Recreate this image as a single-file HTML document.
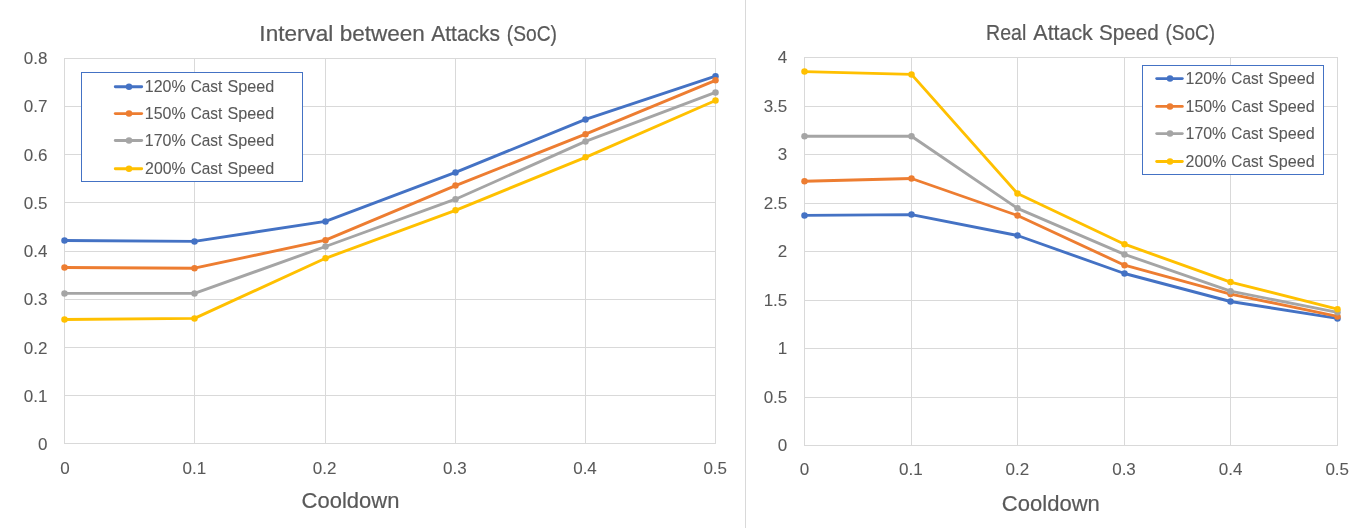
<!DOCTYPE html>
<html lang="en">
<head>
<meta charset="utf-8">
<title>Interval between Attacks / Real Attack Speed (SoC)</title>
<style>
html,body{margin:0;padding:0;background:#fff;}
body{width:1358px;height:528px;overflow:hidden;}
svg{display:block;font-family:"Liberation Sans",Arial,Helvetica,sans-serif;}
</style>
</head>
<body>
<svg width="1358" height="528" viewBox="0 0 1358 528">
<rect x="0" y="0" width="1358" height="528" fill="#ffffff"/>
<line x1="745.5" y1="0" x2="745.5" y2="528" stroke="#D9D9D9" stroke-width="1"/>
<!-- Left chart -->
<g stroke="#D9D9D9" stroke-width="1" fill="none" shape-rendering="crispEdges">
<line x1="64" y1="443.5" x2="716" y2="443.5"/>
<line x1="64" y1="395.5" x2="716" y2="395.5"/>
<line x1="64" y1="347.5" x2="716" y2="347.5"/>
<line x1="64" y1="299.5" x2="716" y2="299.5"/>
<line x1="64" y1="251.5" x2="716" y2="251.5"/>
<line x1="64" y1="202.5" x2="716" y2="202.5"/>
<line x1="64" y1="154.5" x2="716" y2="154.5"/>
<line x1="64" y1="106.5" x2="716" y2="106.5"/>
<line x1="64" y1="58.5" x2="716" y2="58.5"/>
<line x1="64.5" y1="58" x2="64.5" y2="444"/>
<line x1="194.5" y1="58" x2="194.5" y2="444"/>
<line x1="325.5" y1="58" x2="325.5" y2="444"/>
<line x1="455.5" y1="58" x2="455.5" y2="444"/>
<line x1="585.5" y1="58" x2="585.5" y2="444"/>
<line x1="715.5" y1="58" x2="715.5" y2="444"/>
</g>
<g font-size="17.0" fill="#595959" stroke="#595959" stroke-width="0.08">
<text x="47.5" y="449.95" text-anchor="end">0</text>
<text x="47.5" y="401.95" text-anchor="end">0.1</text>
<text x="47.5" y="353.95" text-anchor="end">0.2</text>
<text x="47.5" y="304.95" text-anchor="end">0.3</text>
<text x="47.5" y="256.95" text-anchor="end">0.4</text>
<text x="47.5" y="208.95" text-anchor="end">0.5</text>
<text x="47.5" y="160.95" text-anchor="end">0.6</text>
<text x="47.5" y="111.95" text-anchor="end">0.7</text>
<text x="47.5" y="63.95" text-anchor="end">0.8</text>
<text x="65" y="473.8" text-anchor="middle">0</text>
<text x="194.4" y="473.8" text-anchor="middle">0.1</text>
<text x="324.6" y="473.8" text-anchor="middle">0.2</text>
<text x="454.8" y="473.8" text-anchor="middle">0.3</text>
<text x="585" y="473.8" text-anchor="middle">0.4</text>
<text x="715.2" y="473.8" text-anchor="middle">0.5</text>
</g>
<text y="41.1" font-size="21.8" fill="#595959" stroke="#595959" stroke-width="0.22"><tspan x="259.38" textLength="74.02" lengthAdjust="spacingAndGlyphs">Interval</tspan> <tspan x="339.66" textLength="85.2" lengthAdjust="spacingAndGlyphs">between</tspan> <tspan x="431.19" textLength="68.89" lengthAdjust="spacingAndGlyphs">Attacks</tspan> <tspan x="506.82" textLength="50.21" lengthAdjust="spacingAndGlyphs">(SoC)</tspan></text>
<text y="507.6" font-size="21.5" fill="#595959" stroke="#595959" stroke-width="0.2"><tspan x="301.64" textLength="97.74" lengthAdjust="spacingAndGlyphs">Cooldown</tspan></text>
<g stroke="#4472C4" fill="#4472C4">
<polyline points="64.5,240.45 194.5,241.4 325.5,221.4 455.5,172.4 585.5,119.4 715.5,76.2" fill="none" stroke-width="2.9" stroke-linejoin="round" stroke-linecap="round"/>
<circle cx="64.5" cy="240.45" r="3.25" stroke="none"/>
<circle cx="194.5" cy="241.4" r="3.25" stroke="none"/>
<circle cx="325.5" cy="221.4" r="3.25" stroke="none"/>
<circle cx="455.5" cy="172.4" r="3.25" stroke="none"/>
<circle cx="585.5" cy="119.4" r="3.25" stroke="none"/>
<circle cx="715.5" cy="76.2" r="3.25" stroke="none"/>
</g>
<g stroke="#ED7D31" fill="#ED7D31">
<polyline points="64.5,267.5 194.5,268.2 325.5,240.2 455.5,185.6 585.5,134.2 715.5,80.3" fill="none" stroke-width="2.9" stroke-linejoin="round" stroke-linecap="round"/>
<circle cx="64.5" cy="267.5" r="3.25" stroke="none"/>
<circle cx="194.5" cy="268.2" r="3.25" stroke="none"/>
<circle cx="325.5" cy="240.2" r="3.25" stroke="none"/>
<circle cx="455.5" cy="185.6" r="3.25" stroke="none"/>
<circle cx="585.5" cy="134.2" r="3.25" stroke="none"/>
<circle cx="715.5" cy="80.3" r="3.25" stroke="none"/>
</g>
<g stroke="#A5A5A5" fill="#A5A5A5">
<polyline points="64.5,293.4 194.5,293.4 325.5,246.5 455.5,199.2 585.5,141.4 715.5,92.4" fill="none" stroke-width="2.9" stroke-linejoin="round" stroke-linecap="round"/>
<circle cx="64.5" cy="293.4" r="3.25" stroke="none"/>
<circle cx="194.5" cy="293.4" r="3.25" stroke="none"/>
<circle cx="325.5" cy="246.5" r="3.25" stroke="none"/>
<circle cx="455.5" cy="199.2" r="3.25" stroke="none"/>
<circle cx="585.5" cy="141.4" r="3.25" stroke="none"/>
<circle cx="715.5" cy="92.4" r="3.25" stroke="none"/>
</g>
<g stroke="#FFC000" fill="#FFC000">
<polyline points="64.5,319.5 194.5,318.4 325.5,258.3 455.5,210.3 585.5,157.3 715.5,100.5" fill="none" stroke-width="2.9" stroke-linejoin="round" stroke-linecap="round"/>
<circle cx="64.5" cy="319.5" r="3.25" stroke="none"/>
<circle cx="194.5" cy="318.4" r="3.25" stroke="none"/>
<circle cx="325.5" cy="258.3" r="3.25" stroke="none"/>
<circle cx="455.5" cy="210.3" r="3.25" stroke="none"/>
<circle cx="585.5" cy="157.3" r="3.25" stroke="none"/>
<circle cx="715.5" cy="100.5" r="3.25" stroke="none"/>
</g>
<rect x="81.5" y="72.5" width="221" height="109" fill="#fff" stroke="#4472C4" stroke-width="1"/>
<line x1="115.3" y1="86.7" x2="141.7" y2="86.7" stroke="#4472C4" stroke-width="2.9" stroke-linecap="round"/>
<circle cx="129" cy="86.7" r="3.25" fill="#4472C4"/>
<text y="91.9" font-size="17.0" fill="#595959" stroke="#595959" stroke-width="0.08"><tspan x="144.83" textLength="40.79" lengthAdjust="spacingAndGlyphs">120%</tspan> <tspan x="190.72" textLength="31.57" lengthAdjust="spacingAndGlyphs">Cast</tspan> <tspan x="227.41" textLength="46.8" lengthAdjust="spacingAndGlyphs">Speed</tspan></text>
<line x1="115.3" y1="113.6" x2="141.7" y2="113.6" stroke="#ED7D31" stroke-width="2.9" stroke-linecap="round"/>
<circle cx="129" cy="113.6" r="3.25" fill="#ED7D31"/>
<text y="118.8" font-size="17.0" fill="#595959" stroke="#595959" stroke-width="0.08"><tspan x="144.83" textLength="40.79" lengthAdjust="spacingAndGlyphs">150%</tspan> <tspan x="190.72" textLength="31.57" lengthAdjust="spacingAndGlyphs">Cast</tspan> <tspan x="227.41" textLength="46.8" lengthAdjust="spacingAndGlyphs">Speed</tspan></text>
<line x1="115.3" y1="140.5" x2="141.7" y2="140.5" stroke="#A5A5A5" stroke-width="2.9" stroke-linecap="round"/>
<circle cx="129" cy="140.5" r="3.25" fill="#A5A5A5"/>
<text y="145.7" font-size="17.0" fill="#595959" stroke="#595959" stroke-width="0.08"><tspan x="144.83" textLength="40.79" lengthAdjust="spacingAndGlyphs">170%</tspan> <tspan x="190.72" textLength="31.57" lengthAdjust="spacingAndGlyphs">Cast</tspan> <tspan x="227.41" textLength="46.8" lengthAdjust="spacingAndGlyphs">Speed</tspan></text>
<line x1="115.3" y1="168.7" x2="141.7" y2="168.7" stroke="#FFC000" stroke-width="2.9" stroke-linecap="round"/>
<circle cx="129" cy="168.7" r="3.25" fill="#FFC000"/>
<text y="173.9" font-size="17.0" fill="#595959" stroke="#595959" stroke-width="0.08"><tspan x="145.12" textLength="40.45" lengthAdjust="spacingAndGlyphs">200%</tspan> <tspan x="190.72" textLength="31.57" lengthAdjust="spacingAndGlyphs">Cast</tspan> <tspan x="227.41" textLength="46.8" lengthAdjust="spacingAndGlyphs">Speed</tspan></text>
<!-- Right chart -->
<g stroke="#D9D9D9" stroke-width="1" fill="none" shape-rendering="crispEdges">
<line x1="804" y1="445.5" x2="1338" y2="445.5"/>
<line x1="804" y1="397.5" x2="1338" y2="397.5"/>
<line x1="804" y1="348.5" x2="1338" y2="348.5"/>
<line x1="804" y1="300.5" x2="1338" y2="300.5"/>
<line x1="804" y1="251.5" x2="1338" y2="251.5"/>
<line x1="804" y1="203.5" x2="1338" y2="203.5"/>
<line x1="804" y1="154.5" x2="1338" y2="154.5"/>
<line x1="804" y1="106.5" x2="1338" y2="106.5"/>
<line x1="804" y1="57.5" x2="1338" y2="57.5"/>
<line x1="804.5" y1="57" x2="804.5" y2="446"/>
<line x1="911.5" y1="57" x2="911.5" y2="446"/>
<line x1="1017.5" y1="57" x2="1017.5" y2="446"/>
<line x1="1124.5" y1="57" x2="1124.5" y2="446"/>
<line x1="1230.5" y1="57" x2="1230.5" y2="446"/>
<line x1="1337.5" y1="57" x2="1337.5" y2="446"/>
</g>
<g font-size="17.0" fill="#595959" stroke="#595959" stroke-width="0.08">
<text x="787.3" y="450.8" text-anchor="end">0</text>
<text x="787.3" y="402.8" text-anchor="end">0.5</text>
<text x="787.3" y="353.8" text-anchor="end">1</text>
<text x="787.3" y="305.8" text-anchor="end">1.5</text>
<text x="787.3" y="256.8" text-anchor="end">2</text>
<text x="787.3" y="208.8" text-anchor="end">2.5</text>
<text x="787.3" y="159.8" text-anchor="end">3</text>
<text x="787.3" y="111.8" text-anchor="end">3.5</text>
<text x="787.3" y="62.8" text-anchor="end">4</text>
<text x="804.5" y="474.7" text-anchor="middle">0</text>
<text x="910.8" y="474.7" text-anchor="middle">0.1</text>
<text x="1017.4" y="474.7" text-anchor="middle">0.2</text>
<text x="1124" y="474.7" text-anchor="middle">0.3</text>
<text x="1230.6" y="474.7" text-anchor="middle">0.4</text>
<text x="1337.2" y="474.7" text-anchor="middle">0.5</text>
</g>
<text y="39.9" font-size="21.8" fill="#595959" stroke="#595959" stroke-width="0.22"><tspan x="986.12" textLength="40.16" lengthAdjust="spacingAndGlyphs">Real</tspan> <tspan x="1033.36" textLength="59.46" lengthAdjust="spacingAndGlyphs">Attack</tspan> <tspan x="1098.9" textLength="59.8" lengthAdjust="spacingAndGlyphs">Speed</tspan> <tspan x="1165.5" textLength="49.67" lengthAdjust="spacingAndGlyphs">(SoC)</tspan></text>
<text y="510.75" font-size="21.5" fill="#595959" stroke="#595959" stroke-width="0.2"><tspan x="1001.84" textLength="97.99" lengthAdjust="spacingAndGlyphs">Cooldown</tspan></text>
<g stroke="#4472C4" fill="#4472C4">
<polyline points="804.5,215.4 911.5,214.6 1017.5,235.5 1124.5,273.5 1230.5,301.5 1337.5,318.4" fill="none" stroke-width="2.9" stroke-linejoin="round" stroke-linecap="round"/>
<circle cx="804.5" cy="215.4" r="3.25" stroke="none"/>
<circle cx="911.5" cy="214.6" r="3.25" stroke="none"/>
<circle cx="1017.5" cy="235.5" r="3.25" stroke="none"/>
<circle cx="1124.5" cy="273.5" r="3.25" stroke="none"/>
<circle cx="1230.5" cy="301.5" r="3.25" stroke="none"/>
<circle cx="1337.5" cy="318.4" r="3.25" stroke="none"/>
</g>
<g stroke="#ED7D31" fill="#ED7D31">
<polyline points="804.5,181.2 911.5,178.5 1017.5,215.5 1124.5,265.2 1230.5,294.1 1337.5,316.4" fill="none" stroke-width="2.9" stroke-linejoin="round" stroke-linecap="round"/>
<circle cx="804.5" cy="181.2" r="3.25" stroke="none"/>
<circle cx="911.5" cy="178.5" r="3.25" stroke="none"/>
<circle cx="1017.5" cy="215.5" r="3.25" stroke="none"/>
<circle cx="1124.5" cy="265.2" r="3.25" stroke="none"/>
<circle cx="1230.5" cy="294.1" r="3.25" stroke="none"/>
<circle cx="1337.5" cy="316.4" r="3.25" stroke="none"/>
</g>
<g stroke="#A5A5A5" fill="#A5A5A5">
<polyline points="804.5,136.3 911.5,136.3 1017.5,208.3 1124.5,254.4 1230.5,291.2 1337.5,312.3" fill="none" stroke-width="2.9" stroke-linejoin="round" stroke-linecap="round"/>
<circle cx="804.5" cy="136.3" r="3.25" stroke="none"/>
<circle cx="911.5" cy="136.3" r="3.25" stroke="none"/>
<circle cx="1017.5" cy="208.3" r="3.25" stroke="none"/>
<circle cx="1124.5" cy="254.4" r="3.25" stroke="none"/>
<circle cx="1230.5" cy="291.2" r="3.25" stroke="none"/>
<circle cx="1337.5" cy="312.3" r="3.25" stroke="none"/>
</g>
<g stroke="#FFC000" fill="#FFC000">
<polyline points="804.5,71.6 911.5,74.4 1017.5,193.5 1124.5,244.2 1230.5,282.1 1337.5,309.2" fill="none" stroke-width="2.9" stroke-linejoin="round" stroke-linecap="round"/>
<circle cx="804.5" cy="71.6" r="3.25" stroke="none"/>
<circle cx="911.5" cy="74.4" r="3.25" stroke="none"/>
<circle cx="1017.5" cy="193.5" r="3.25" stroke="none"/>
<circle cx="1124.5" cy="244.2" r="3.25" stroke="none"/>
<circle cx="1230.5" cy="282.1" r="3.25" stroke="none"/>
<circle cx="1337.5" cy="309.2" r="3.25" stroke="none"/>
</g>
<rect x="1142.5" y="65.5" width="181" height="109" fill="#fff" stroke="#4472C4" stroke-width="1"/>
<line x1="1156.7" y1="78.6" x2="1182.3" y2="78.6" stroke="#4472C4" stroke-width="2.9" stroke-linecap="round"/>
<circle cx="1170" cy="78.6" r="3.25" fill="#4472C4"/>
<text y="83.8" font-size="17.0" fill="#595959" stroke="#595959" stroke-width="0.08"><tspan x="1185.56" textLength="40.71" lengthAdjust="spacingAndGlyphs">120%</tspan> <tspan x="1231.34" textLength="31.6" lengthAdjust="spacingAndGlyphs">Cast</tspan> <tspan x="1268" textLength="46.71" lengthAdjust="spacingAndGlyphs">Speed</tspan></text>
<line x1="1156.7" y1="106.4" x2="1182.3" y2="106.4" stroke="#ED7D31" stroke-width="2.9" stroke-linecap="round"/>
<circle cx="1170" cy="106.4" r="3.25" fill="#ED7D31"/>
<text y="111.6" font-size="17.0" fill="#595959" stroke="#595959" stroke-width="0.08"><tspan x="1185.56" textLength="40.71" lengthAdjust="spacingAndGlyphs">150%</tspan> <tspan x="1231.34" textLength="31.6" lengthAdjust="spacingAndGlyphs">Cast</tspan> <tspan x="1268" textLength="46.71" lengthAdjust="spacingAndGlyphs">Speed</tspan></text>
<line x1="1156.7" y1="133.6" x2="1182.3" y2="133.6" stroke="#A5A5A5" stroke-width="2.9" stroke-linecap="round"/>
<circle cx="1170" cy="133.6" r="3.25" fill="#A5A5A5"/>
<text y="138.8" font-size="17.0" fill="#595959" stroke="#595959" stroke-width="0.08"><tspan x="1185.56" textLength="40.71" lengthAdjust="spacingAndGlyphs">170%</tspan> <tspan x="1231.34" textLength="31.6" lengthAdjust="spacingAndGlyphs">Cast</tspan> <tspan x="1268" textLength="46.71" lengthAdjust="spacingAndGlyphs">Speed</tspan></text>
<line x1="1156.7" y1="161.5" x2="1182.3" y2="161.5" stroke="#FFC000" stroke-width="2.9" stroke-linecap="round"/>
<circle cx="1170" cy="161.5" r="3.25" fill="#FFC000"/>
<text y="166.7" font-size="17.0" fill="#595959" stroke="#595959" stroke-width="0.08"><tspan x="1185.62" textLength="40.67" lengthAdjust="spacingAndGlyphs">200%</tspan> <tspan x="1231.34" textLength="31.6" lengthAdjust="spacingAndGlyphs">Cast</tspan> <tspan x="1268" textLength="46.71" lengthAdjust="spacingAndGlyphs">Speed</tspan></text>
</svg>
</body>
</html>
